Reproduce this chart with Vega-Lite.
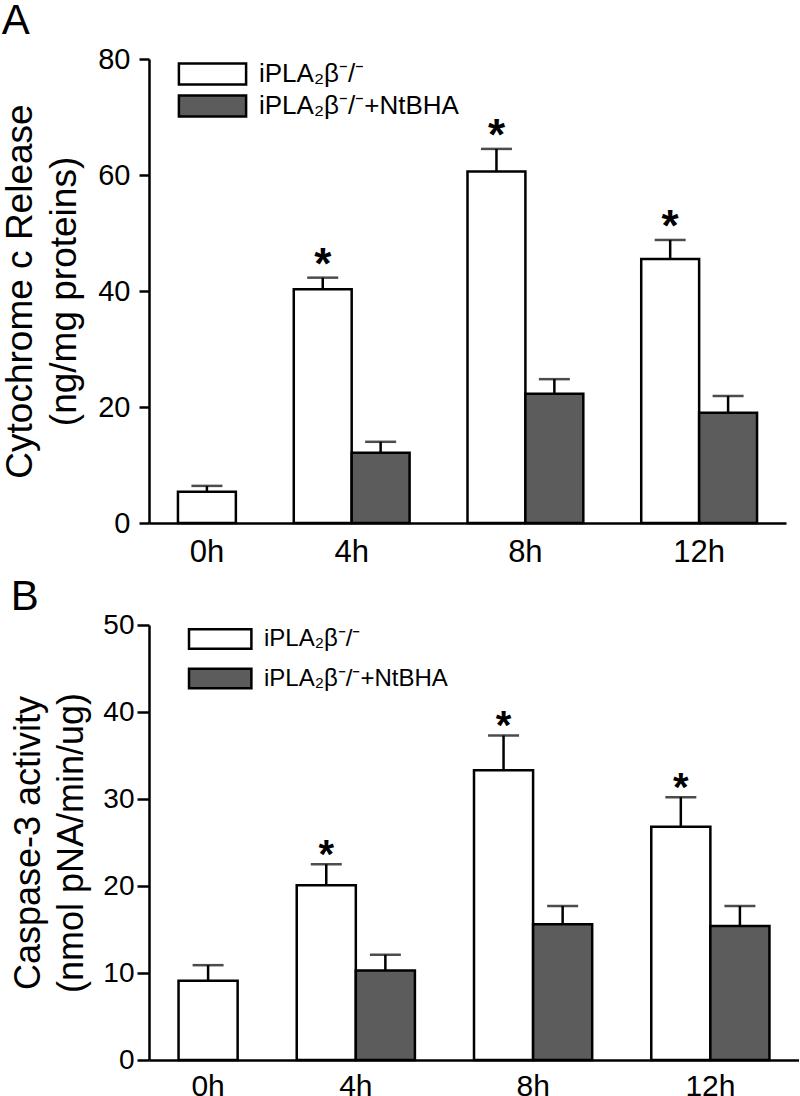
{
  "$schema": "https://vega.github.io/schema/vega-lite/v6.json",
  "padding": {"left": 1, "top": 0, "right": 0, "bottom": 0},
  "background": "white",
  "config": {
    "font": "Liberation Sans",
    "view": {"stroke": null},
    "axis": {"domainColor": "black", "tickColor": "black", "labelColor": "black", "titleColor": "black", "titleFontWeight": "normal", "grid": false, "domainWidth": 2.5, "tickWidth": 2.5},
    "legend": {"labelColor": "black", "labelFont": "Liberation Sans"},
    "title": {"color": "black", "fontWeight": "normal", "anchor": "start", "frame": "bounds", "fontSize": 42}
  },
  "datasets": {
    "a": [
      {"time": "0h", "group": "iPLA₂β⁻/⁻", "mean": 5.4, "upper": 6.4, "sig": ""},
      {"time": "4h", "group": "iPLA₂β⁻/⁻", "mean": 40.3, "upper": 42.3, "sig": "*"},
      {"time": "4h", "group": "iPLA₂β⁻/⁻+NtBHA", "mean": 12.1, "upper": 14.0, "sig": ""},
      {"time": "8h", "group": "iPLA₂β⁻/⁻", "mean": 60.6, "upper": 64.5, "sig": "*"},
      {"time": "8h", "group": "iPLA₂β⁻/⁻+NtBHA", "mean": 22.3, "upper": 24.8, "sig": ""},
      {"time": "12h", "group": "iPLA₂β⁻/⁻", "mean": 45.5, "upper": 48.8, "sig": "*"},
      {"time": "12h", "group": "iPLA₂β⁻/⁻+NtBHA", "mean": 19.0, "upper": 21.9, "sig": ""}
    ],
    "b": [
      {"time": "0h", "group": "iPLA₂β⁻/⁻", "mean": 9.1, "upper": 10.9, "sig": ""},
      {"time": "4h", "group": "iPLA₂β⁻/⁻", "mean": 20.1, "upper": 22.5, "sig": "*"},
      {"time": "4h", "group": "iPLA₂β⁻/⁻+NtBHA", "mean": 10.3, "upper": 12.1, "sig": ""},
      {"time": "8h", "group": "iPLA₂β⁻/⁻", "mean": 33.3, "upper": 37.3, "sig": "*"},
      {"time": "8h", "group": "iPLA₂β⁻/⁻+NtBHA", "mean": 15.6, "upper": 17.7, "sig": ""},
      {"time": "12h", "group": "iPLA₂β⁻/⁻", "mean": 26.8, "upper": 30.2, "sig": "*"},
      {"time": "12h", "group": "iPLA₂β⁻/⁻+NtBHA", "mean": 15.4, "upper": 17.7, "sig": ""}
    ]
  },
  "spacing": 9,
  "resolve": {"scale": {"fill": "independent"}, "legend": {"fill": "independent"}},
  "vconcat": [
    {
      "title": {"text": "A", "offset": 2},
      "width": 637,
      "height": 464,
      "data": {"name": "a"},
      "transform": [{"calculate": "datum.time + '|' + datum.group", "as": "slot"}],
      "encoding": {
        "x": {
          "field": "slot", "type": "nominal",
          "scale": {"type": "band", "domain": ["0h|iPLA₂β⁻/⁻", "g1", "4h|iPLA₂β⁻/⁻", "4h|iPLA₂β⁻/⁻+NtBHA", "g2", "8h|iPLA₂β⁻/⁻", "8h|iPLA₂β⁻/⁻+NtBHA", "g3", "12h|iPLA₂β⁻/⁻", "12h|iPLA₂β⁻/⁻+NtBHA"], "paddingInner": 0, "paddingOuter": 0.5},
          "axis": {
            "title": null, "ticks": false, "labelAngle": 0, "labelFontSize": 31, "labelPadding": 14, "labelBaseline": "top",
            "labelExpr": "indexof(datum.value, '0h|') == 0 ? '0h' : (indexof(datum.value, 'NtBHA') > 0 ? split(datum.value, '|')[0] : '')",
            "labelOffset": {"condition": {"test": "indexof(datum.value, 'NtBHA') > 0", "value": -29}, "value": 0},
            "labelOverlap": false
          }
        }
      },
      "layer": [
        {
          "mark": {"type": "bar", "stroke": "black", "strokeWidth": 2.5},
          "encoding": {
            "y": {
              "field": "mean", "type": "quantitative",
              "scale": {"domain": [0, 80], "nice": false},
              "axis": {"values": [0, 20, 40, 60, 80], "tickSize": 10, "labelFontSize": 29, "labelPadding": 9, "title": ["Cytochrome c Release", "(ng/mg proteins)"], "titleFontSize": 37, "titleLineHeight": 44, "titlePadding": 14}
            },
            "fill": {
              "field": "group", "type": "nominal",
              "scale": {"domain": ["iPLA₂β⁻/⁻", "iPLA₂β⁻/⁻+NtBHA"], "range": ["white", "#5c5c5c"]},
              "legend": {"title": null, "orient": "none", "legendX": 50.5, "legendY": 2, "padding": 0, "symbolType": "M-3.2,-1H3.2V1H-3.2Z", "symbolSize": 441, "symbolStrokeColor": "black", "symbolStrokeWidth": 2.5, "labelFontSize": 26, "labelOffset": 33.5, "rowPadding": 0, "labelLimit": 400}
            }
          }
        },
        {
          "mark": {"type": "rule", "color": "black", "strokeWidth": 2.5},
          "encoding": {"y": {"field": "mean", "type": "quantitative"}, "y2": {"field": "upper"}}
        },
        {
          "mark": {"type": "tick", "color": "black", "thickness": 2.5, "size": 31},
          "encoding": {"y": {"field": "upper", "type": "quantitative"}}
        },
        {
          "transform": [{"filter": "datum.sig != ''"}],
          "mark": {"type": "text", "fontSize": 44, "fontWeight": "bold", "baseline": "alphabetic", "dy": 1, "color": "black"},
          "encoding": {"y": {"field": "upper", "type": "quantitative"}, "text": {"field": "sig"}}
        }
      ]
    },
    {
      "title": {"text": "B", "offset": -8},
      "width": 650,
      "height": 435,
      "data": {"name": "b"},
      "transform": [{"calculate": "datum.time + '|' + datum.group", "as": "slot"}],
      "encoding": {
        "x": {
          "field": "slot", "type": "nominal",
          "scale": {"type": "band", "domain": ["0h|iPLA₂β⁻/⁻", "g1", "4h|iPLA₂β⁻/⁻", "4h|iPLA₂β⁻/⁻+NtBHA", "g2", "8h|iPLA₂β⁻/⁻", "8h|iPLA₂β⁻/⁻+NtBHA", "g3", "12h|iPLA₂β⁻/⁻", "12h|iPLA₂β⁻/⁻+NtBHA"], "paddingInner": 0, "paddingOuter": 0.5},
          "axis": {
            "title": null, "ticks": false, "labelAngle": 0, "labelFontSize": 30, "labelPadding": 11, "labelBaseline": "top",
            "labelExpr": "indexof(datum.value, '0h|') == 0 ? '0h' : (indexof(datum.value, 'NtBHA') > 0 ? split(datum.value, '|')[0] : '')",
            "labelOffset": {"condition": {"test": "indexof(datum.value, 'NtBHA') > 0", "value": -29.5}, "value": 0},
            "labelOverlap": false
          }
        }
      },
      "layer": [
        {
          "mark": {"type": "bar", "stroke": "black", "strokeWidth": 2.5},
          "encoding": {
            "y": {
              "field": "mean", "type": "quantitative",
              "scale": {"domain": [0, 50], "nice": false},
              "axis": {"values": [0, 10, 20, 30, 40, 50], "tickSize": 12, "labelFontSize": 28, "labelPadding": 3, "title": ["Caspase-3 activity", "(nmol pNA/min/ug)"], "titleFontSize": 36, "titleLineHeight": 43, "titlePadding": 12}
            },
            "fill": {
              "field": "group", "type": "nominal",
              "scale": {"domain": ["iPLA₂β⁻/⁻", "iPLA₂β⁻/⁻+NtBHA"], "range": ["white", "#5c5c5c"]},
              "legend": {"title": null, "orient": "none", "legendX": 59.2, "legendY": 2, "padding": 0, "symbolType": "M-3.2,-1H3.2V1H-3.2Z", "symbolSize": 380, "symbolStrokeColor": "black", "symbolStrokeWidth": 2.5, "labelFontSize": 24, "labelOffset": 31.8, "rowPadding": 9.5, "labelLimit": 400}
            }
          }
        },
        {
          "mark": {"type": "rule", "color": "black", "strokeWidth": 2.5},
          "encoding": {"y": {"field": "mean", "type": "quantitative"}, "y2": {"field": "upper"}}
        },
        {
          "mark": {"type": "tick", "color": "black", "thickness": 2.5, "size": 31},
          "encoding": {"y": {"field": "upper", "type": "quantitative"}}
        },
        {
          "transform": [{"filter": "datum.sig != ''"}],
          "mark": {"type": "text", "fontSize": 40, "fontWeight": "bold", "baseline": "alphabetic", "dy": 4, "color": "black"},
          "encoding": {"y": {"field": "upper", "type": "quantitative"}, "text": {"field": "sig"}}
        }
      ]
    }
  ]
}
